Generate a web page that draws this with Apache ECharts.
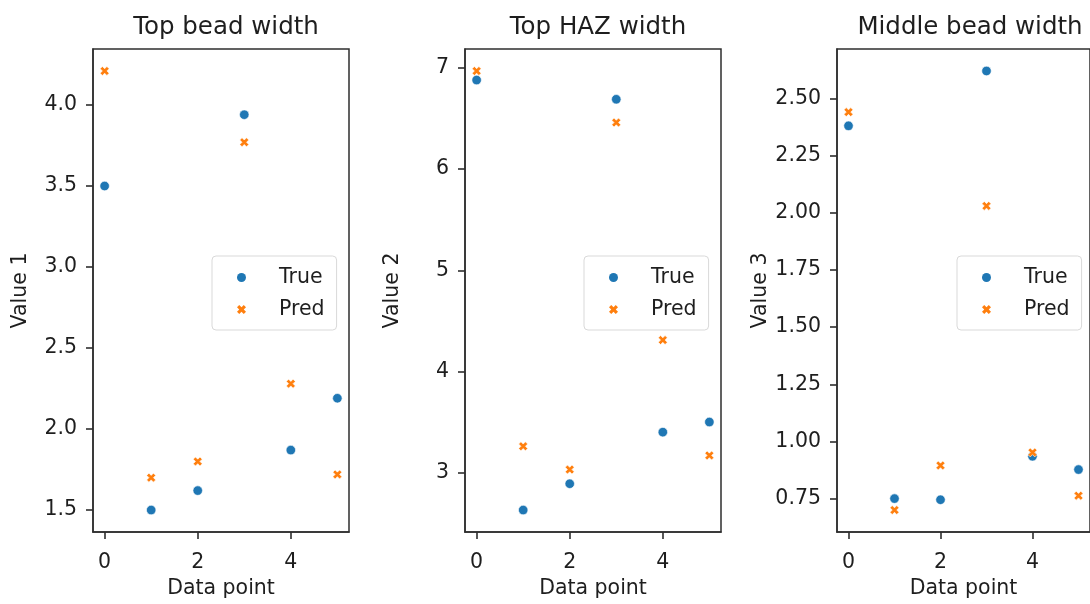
<!DOCTYPE html>
<html>
<head>
<meta charset="utf-8">
<script src="https://cdn.jsdelivr.net/npm/echarts@6/dist/echarts.min.js"></script>
<style>
html,body{margin:0;padding:0;background:#fff;overflow:hidden;}
#chart{width:1090px;height:604px;}
</style>
</head>
<body>
<div id="chart"></div>
<script>
// ---- data ----
const titles = ['Top bead width', 'Top HAZ width', 'Middle bead width'];
const yNames = ['Value 1', 'Value 2', 'Value 3'];
const xName = 'Data point';
const xPoints = [0, 1, 2, 3, 4, 5];
const topBeadTrue = [3.50, 1.50, 1.62, 3.94, 1.87, 2.19];
const topBeadPred = [4.21, 1.70, 1.80, 3.77, 2.28, 1.72];
const topHazTrue = [6.88, 2.63, 2.89, 6.69, 3.40, 3.50];
const topHazPred = [6.97, 3.26, 3.03, 6.46, 4.31, 3.17];
const midBeadTrue = [2.38, 0.75, 0.745, 2.62, 0.935, 0.877];
const midBeadPred = [2.44, 0.70, 0.895, 2.03, 0.952, 0.763];
const xTicks = [0, 2, 4];
const yTicks1 = [1.5, 2.0, 2.5, 3.0, 3.5, 4.0];
const yTicks2 = [3, 4, 5, 6, 7];
const yTicks3 = [0.75, 1.00, 1.25, 1.50, 1.75, 2.00, 2.25, 2.50];
const yDecimals = [1, 0, 2];
const seriesNames = ['True', 'Pred'];

// ---- layout / style ----
const FONT = 'DejaVu Sans';
const TXT = '#1e1e1e';
const FRAME = '#2e2e2e';
const BLUE = '#1f77b4';
const ORANGE = '#ff7f0e';
const X_ICON = 'path://M1,0L2,1L3,0L4,1L3,2L4,3L3,4L2,3L1,4L0,3L1,2L0,1Z';
const grids = [
  {left: 93, top: 49, width: 256, height: 485},
  {left: 465, top: 49, width: 256, height: 485},
  {left: 837, top: 49, width: 256, height: 485}
];
const legendLeft = [212, 584, 957];

const trueSets = [topBeadTrue, topHazTrue, midBeadTrue];
const predSets = [topBeadPred, topHazPred, midBeadPred];
const yTickSets = [yTicks1, yTicks2, yTicks3];

function pad(vals) {
  const mn = Math.min(...vals), mx = Math.max(...vals);
  const m = (mx - mn) * 0.05;
  return [mn - m, mx + m];
}

const option = {
  backgroundColor: '#ffffff',
  animation: false,
  title: [], grid: [], xAxis: [], yAxis: [], series: [], legend: []
};

for (let i = 0; i < 3; i++) {
  const g = grids[i];
  option.grid.push(Object.assign({show: true, borderColor: FRAME, borderWidth: 1.5, backgroundColor: 'transparent', containLabel: false}, g));
  option.title.push({
    text: titles[i], left: g.left + g.width / 2, top: 10, textAlign: 'center',
    textStyle: {fontFamily: FONT, fontSize: 24.5, fontWeight: 'normal', color: TXT}
  });
  const range = pad(trueSets[i].concat(predSets[i]));
  const dec = yDecimals[i];
  option.xAxis.push({
    type: 'value', gridIndex: i, min: -0.25, max: 5.25,
    name: xName, nameLocation: 'middle', nameGap: 46,
    nameTextStyle: {fontFamily: FONT, fontSize: 20.5, color: TXT},
    axisLine: {show: true, onZero: false, lineStyle: {color: FRAME, width: 1.5}},
    axisTick: {show: true, inside: false, length: 7, customValues: xTicks, lineStyle: {color: FRAME, width: 1.6}},
    axisLabel: {customValues: xTicks, margin: 20, fontFamily: FONT, fontSize: 20.5, color: TXT},
    splitLine: {show: false}
  });
  option.yAxis.push({
    type: 'value', gridIndex: i, min: range[0], max: range[1],
    name: yNames[i], nameLocation: 'middle', nameGap: 62,
    nameTextStyle: {fontFamily: FONT, fontSize: 20.5, color: TXT},
    axisLine: {show: true, onZero: false, lineStyle: {color: FRAME, width: 1.5}},
    axisTick: {show: true, inside: false, length: 7, customValues: yTickSets[i], lineStyle: {color: FRAME, width: 1.6}},
    axisLabel: {customValues: yTickSets[i], margin: 16, fontFamily: FONT, fontSize: 20.5, color: TXT,
      formatter: v => Number(v).toFixed(dec)},
    splitLine: {show: false}
  });
  option.series.push({
    type: 'scatter', name: seriesNames[0], xAxisIndex: i, yAxisIndex: i,
    symbol: 'circle', symbolSize: 9.5,
    itemStyle: {color: BLUE, opacity: 1, borderColor: '#fff', borderWidth: 0.6},
    data: xPoints.map((x, k) => [x, trueSets[i][k]])
  });
  option.series.push({
    type: 'scatter', name: seriesNames[1], xAxisIndex: i, yAxisIndex: i,
    symbol: X_ICON, symbolSize: 9,
    itemStyle: {color: ORANGE, opacity: 1, borderColor: '#fff', borderWidth: 0.6},
    data: xPoints.map((x, k) => [x, predSets[i][k]])
  });
  option.legend.push({
    left: legendLeft[i], top: 256, orient: 'vertical',
    selectedMode: false,
    data: [{name: seriesNames[0], icon: 'circle'}, {name: seriesNames[1], icon: X_ICON}],
    itemWidth: 9, itemHeight: 9, itemGap: 11,
    padding: [11, 12, 10, 25],
    backgroundColor: 'rgba(255,255,255,0.8)',
    borderColor: '#d9d9d9', borderWidth: 1, borderRadius: 4,
    itemStyle: {opacity: 1, borderWidth: 0},
    textStyle: {fontFamily: FONT, fontSize: 20.5, color: TXT, lineHeight: 20, padding: [0, 0, 0, 28]}
  });
}

const chart = echarts.init(document.getElementById('chart'), null, {renderer: 'canvas'});
chart.setOption(option);
</script>
</body>
</html>
